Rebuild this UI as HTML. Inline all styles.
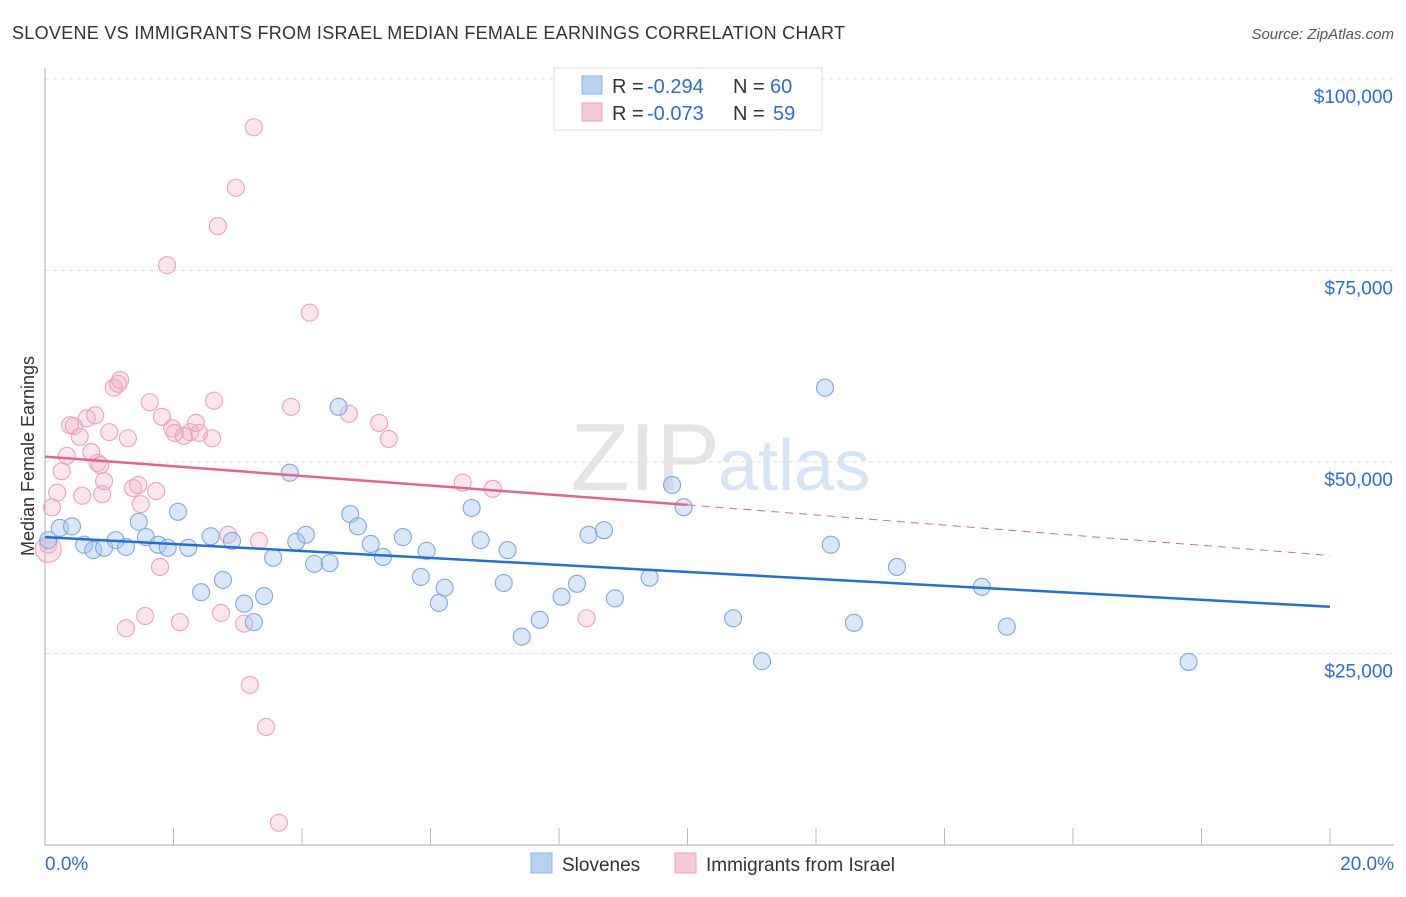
<!DOCTYPE html>
<html><head><meta charset="utf-8"><style>
body{margin:0;background:#fff;font-family:"Liberation Sans",sans-serif}
svg text{font-family:"Liberation Sans",sans-serif}
</style></head><body>
<svg id="c" width="1406" height="892" xmlns="http://www.w3.org/2000/svg">
<text x="12" y="39" font-size="18" fill="#333" textLength="833">SLOVENE VS IMMIGRANTS FROM ISRAEL MEDIAN FEMALE EARNINGS CORRELATION CHART</text>
<text x="1394" y="39" font-size="15" fill="#555" text-anchor="end" font-style="italic">Source: ZipAtlas.com</text>
<text x="720" y="490" font-size="96" fill="#e4e4e4" text-anchor="end" font-family="Liberation Serif">ZIP</text>
<text x="718" y="490" font-size="72" fill="#d6e4f5">atlas</text>
<g id="grid"></g>
<g id="axes"></g>
<g id="pts"></g>
<g id="lines"></g>
<g>
<rect x="554" y="68" width="268" height="62" fill="#fff" stroke="#ddd"/>
<rect x="582" y="76" width="20" height="18" fill="#b7d1f5" stroke="#8fb4e8"/>
<text x="612" y="93" font-size="20" fill="#333">R =</text>
<text x="647" y="93" font-size="20" fill="#2c6fd1">-0.294</text>
<text x="733" y="93" font-size="20" fill="#333">N =</text>
<text x="770" y="93" font-size="20" fill="#2c6fd1">60</text>
<rect x="582" y="103" width="20" height="18" fill="#f9c8d7" stroke="#f0a0bb"/>
<text x="612" y="120" font-size="20" fill="#333">R =</text>
<text x="647" y="120" font-size="20" fill="#2c6fd1">-0.073</text>
<text x="733" y="120" font-size="20" fill="#333">N =</text>
<text x="773" y="120" font-size="20" fill="#2c6fd1">59</text>
</g>
<g>
<rect x="531" y="853" width="21" height="20" fill="#b7d1f5" stroke="#8fb4e8"/>
<text x="562" y="871" font-size="19" fill="#333">Slovenes</text>
<rect x="675" y="853" width="21" height="20" fill="#f9c8d7" stroke="#f0a0bb"/>
<text x="706" y="871" font-size="19" fill="#333">Immigrants from Israel</text>
</g>
<text x="45" y="870" font-size="19" fill="#2c6fd1">0.0%</text>
<text x="1394" y="870" font-size="19" fill="#2c6fd1" text-anchor="end">20.0%</text>
<text transform="translate(34,456) rotate(-90)" font-size="18" fill="#333" text-anchor="middle">Median Female Earnings</text>
</svg>
<script>
const yTicks=[25000,50000,75000,100000];
const yTickLabels=["$25,000","$50,000","$75,000","$100,000"];
const blueX=[0.05,0.23,0.42,0.61,0.75,0.92,1.10,1.26,1.46,1.57,1.76,1.91,2.07,2.23,2.43,2.58,2.77,2.91,3.10,3.25,3.41,3.55,3.81,3.91,4.06,4.19,4.43,4.57,4.75,4.87,5.07,5.26,5.57,5.85,5.94,6.13,6.22,6.64,6.78,7.14,7.20,7.42,7.70,8.04,8.28,8.46,8.70,8.87,9.41,9.76,9.94,10.71,11.16,12.14,12.23,12.59,13.26,14.58,14.97,17.80];
const blueY=[39.8,41.4,41.6,39.2,38.5,38.8,39.8,38.9,42.2,40.2,39.2,38.8,43.5,38.8,33.0,40.3,34.6,39.7,31.5,29.1,32.5,37.5,48.6,39.6,40.5,36.7,36.8,57.2,43.2,41.6,39.3,37.6,40.2,35.0,38.4,31.6,33.6,44.0,39.8,34.2,38.5,27.2,29.4,32.4,34.1,40.5,41.1,32.2,34.9,47.0,44.1,29.6,24.0,59.7,39.2,29.0,36.3,33.7,28.5,23.9];
const pinkX=[0.05,0.11,0.19,0.26,0.34,0.39,0.45,0.54,0.58,0.65,0.72,0.78,0.82,0.89,0.92,1.00,1.07,1.14,1.17,1.26,1.29,1.37,1.45,1.49,1.56,1.63,1.73,1.79,1.82,1.90,1.98,2.02,2.10,2.16,2.26,2.35,2.40,2.60,2.63,2.69,2.74,2.85,2.97,3.10,3.19,3.25,3.33,3.44,3.64,3.83,4.12,4.73,5.20,5.35,6.50,6.97,8.43,0.86,0.05];
const pinkY=[39.2,44.1,46.0,48.8,50.8,54.8,54.7,53.3,45.6,55.7,51.3,56.1,49.9,45.8,47.5,53.9,59.7,60.2,60.7,28.3,53.1,46.6,47.0,44.5,29.9,57.8,46.2,36.3,55.9,75.7,54.4,53.8,29.1,53.4,53.9,55.1,53.8,53.1,58.0,80.8,30.3,40.5,85.8,28.9,20.9,93.7,39.7,15.4,2.9,57.2,69.5,56.3,55.1,53.0,47.3,46.5,29.6,49.6,38.6];
const blueTrend=[40.2,31.1];
const pinkTrend=[50.7,44.4,37.8];
const NS="http://www.w3.org/2000/svg";
const xs=p=>45+p/20*1285, ys=v=>845-v/100000*766;
function mk(t,a,parent){const e=document.createElementNS(NS,t);for(const k in a)e.setAttribute(k,a[k]);parent.appendChild(e);return e;}
const grid=document.getElementById('grid'),axes=document.getElementById('axes'),pts=document.getElementById('pts'),lines=document.getElementById('lines');
yTicks.forEach((v,i)=>{
 const g=mk('line',{x1:45,x2:1394,y1:ys(v),y2:ys(v),stroke:'#ddd','stroke-dasharray':'4,4'},grid);
 
 
 const t=mk('text',{x:1393,y:ys(v)+24,'font-size':19,fill:'#2c6fd1','text-anchor':'end'},grid);
 t.textContent=yTickLabels[i];
 
 
});
const ax=mk('line',{x1:45,x2:45,y1:68,y2:845,stroke:'#aaa'},axes);


const bx=mk('line',{x1:45,x2:1394,y1:845,y2:845,stroke:'#aaa'},axes);


for(let i=1;i<=10;i++){const x=xs(i*2);
 const t=mk('line',{x1:x,x2:x,y1:828,y2:845,stroke:'#bbb'},axes);
 
 }
function dots(X,Y,fill,stroke,name){X.forEach((x,i)=>{
 const r=(name==='pink-point'&&i===X.length-1)?13:8.5;
 const c=mk('circle',{cx:xs(x),cy:ys(Y[i]*1000),r:r,fill:fill,stroke:stroke,'stroke-width':1.1},pts);
 
 });}
dots(pinkX,pinkY,'rgba(245,170,195,0.3)','#f0a0bb','pink-point');
dots(blueX,blueY,'rgba(160,195,240,0.4)','#7ea8e6','blue-point');
const bl=mk('line',{x1:xs(0),y1:ys(blueTrend[0]*1000),x2:xs(20),y2:ys(blueTrend[1]*1000),stroke:'#2170d8','stroke-width':2.5},lines);


const pl=mk('line',{x1:xs(0),y1:ys(pinkTrend[0]*1000),x2:xs(10),y2:ys(pinkTrend[1]*1000),stroke:'#e4648c','stroke-width':2.5},lines);


const pd=mk('line',{x1:xs(10),y1:ys(pinkTrend[1]*1000),x2:xs(20),y2:ys(pinkTrend[2]*1000),stroke:'#e4648c','stroke-width':1,'stroke-dasharray':'8,6'},lines);


</script>
</body></html>
